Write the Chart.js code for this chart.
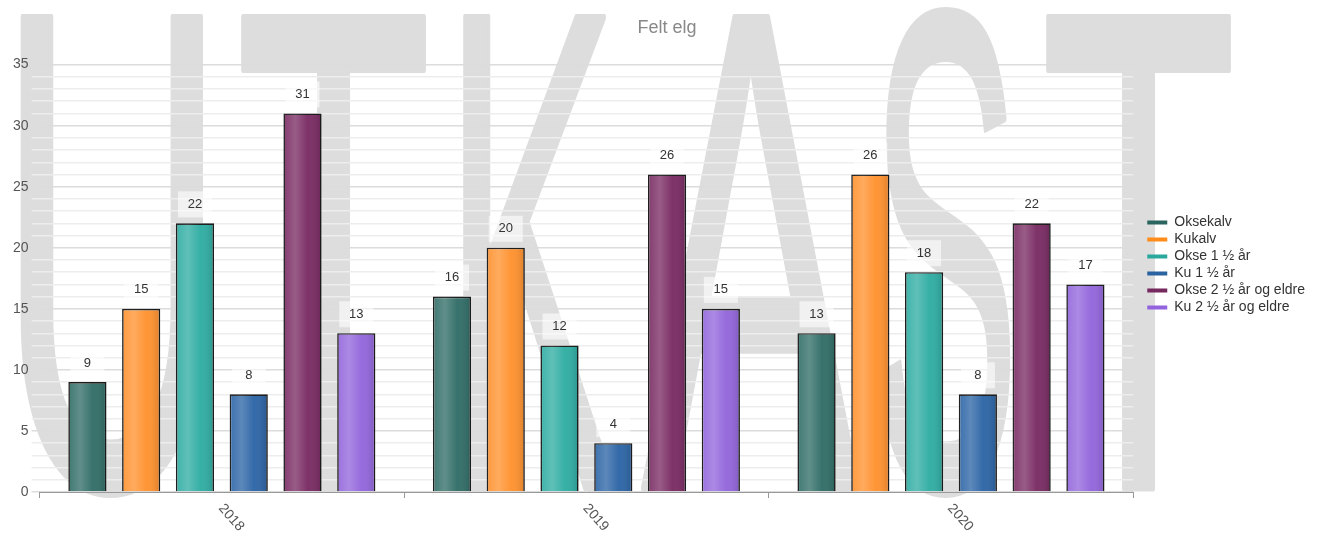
<!DOCTYPE html>
<html>
<head>
<meta charset="utf-8">
<title>Felt elg</title>
<script src="https://cdn.jsdelivr.net/npm/chart.js@4.4.1/dist/chart.umd.min.js"></script>
<style>
  html, body { margin: 0; padding: 0; background: #fff; }
  #wrap { width: 1328px; height: 539px; position: relative; }
</style>
</head>
<body>
<div id="wrap"><canvas id="feltChart"></canvas></div>
<script>
// kategorier (år) og serier
const years = ['2018', '2019', '2020'];
const seriesNames = ['Oksekalv', 'Kukalv', 'Okse 1 ½ år', 'Ku 1 ½ år', 'Okse 2 ½ år og eldre', 'Ku 2 ½ år og eldre'];
const oksekalv = [9, 16, 13];
const kukalv = [15, 20, 26];
const okse1 = [22, 12, 18];
const ku1 = [8, 4, 8];
const okse2 = [31, 26, 22];
const ku2 = [13, 15, 17];
const yTickLabels = [0, 5, 10, 15, 20, 25, 30, 35];

const seriesValues = [oksekalv, kukalv, okse1, ku1, okse2, ku2];
const barColors = ['#346f69', '#ff9331', '#32aea4', '#2f67a7', '#7b2e65', '#9468dc'];
const legendColors = ['#2b6560', '#ff8c1a', '#2aa89e', '#2b62a0', '#75295f', '#9264dd'];

const FONT = '"Liberation Sans", Arial, sans-serif';

// stor "UTKAST" bak diagrammet
const watermark = {
    id: 'watermark',
    beforeDraw(chart) {
        const ctx = chart.ctx;
        const letters = ['U', 'T', 'K', 'A', 'S', 'T'];
        const lefts = [20, 242, 464, 642, 879, 1047];
        const rights = [203, 425, 616, 860, 1011, 1230];
        const baseline = 488, capH = 472;
        ctx.save();
        ctx.fillStyle = '#fff';
        ctx.fillRect(0, 0, chart.width, chart.height);
        ctx.fillStyle = '#dddddd';
        ctx.strokeStyle = '#dddddd';
        ctx.lineJoin = 'round';
        ctx.lineWidth = 1;
        ctx.font = '100px ' + FONT;
        ctx.textAlign = 'left';
        ctx.textBaseline = 'alphabetic';
        const tAsc = ctx.measureText('T').actualBoundingBoxAscent;
        letters.forEach((ch, i) => {
            const m = ctx.measureText(ch);
            const w = m.actualBoundingBoxLeft + m.actualBoundingBoxRight;
            const sx = (rights[i] - lefts[i]) / w;
            const sy = capH / tAsc;
            ctx.save();
            ctx.translate(lefts[i], baseline);
            ctx.scale(sx, sy);
            ctx.fillText(ch, m.actualBoundingBoxLeft, 0);
            ctx.strokeText(ch, m.actualBoundingBoxLeft, 0);
            ctx.restore();
        });
        ctx.restore();
    }
};

// glans på søylene + verdietiketter
const barDecor = {
    id: 'barDecor',
    afterDatasetsDraw(chart) {
        const ctx = chart.ctx;
        ctx.save();
        chart.data.datasets.forEach((ds, di) => {
            const meta = chart.getDatasetMeta(di);
            if (meta.hidden) return;
            meta.data.forEach((bar) => {
                const left = bar.x - bar.width / 2 + 1;
                const right = bar.x + bar.width / 2 - 1;
                const g = ctx.createLinearGradient(left, 0, right, 0);
                g.addColorStop(0, 'rgba(255,255,255,0.08)');
                g.addColorStop(0.3, 'rgba(255,255,255,0.22)');
                g.addColorStop(0.65, 'rgba(255,255,255,0.02)');
                g.addColorStop(1, 'rgba(0,0,0,0.12)');
                ctx.fillStyle = g;
                ctx.fillRect(left, bar.y + 1, right - left, bar.base - bar.y - 1);
            });
        });
        ctx.font = '13px ' + FONT;
        ctx.textAlign = 'center';
        ctx.textBaseline = 'middle';
        chart.data.datasets.forEach((ds, di) => {
            const meta = chart.getDatasetMeta(di);
            if (meta.hidden) return;
            meta.data.forEach((bar, i) => {
                ctx.fillStyle = 'rgba(255,255,255,0.6)';
                ctx.fillRect(bar.x - 17, bar.y - 32, 34, 26);
                ctx.fillStyle = '#333';
                ctx.fillText(String(ds.data[i]), bar.x, bar.y - 19);
            });
        });
        ctx.restore();
    }
};

// skrå årstall under x-aksen
const xLabels = {
    id: 'xLabels',
    afterDraw(chart) {
        const ctx = chart.ctx;
        const xs = chart.scales.x;
        ctx.save();
        ctx.font = '14px ' + FONT;
        ctx.fillStyle = '#555';
        ctx.textAlign = 'left';
        ctx.textBaseline = 'middle';
        years.forEach((y, i) => {
            const px = xs.getPixelForValue(i);
            ctx.save();
            ctx.translate(px - 1, xs.top + 14);
            ctx.rotate(Math.PI * 0.27);
            ctx.fillText(y, 0, 0);
            ctx.restore();
        });
        ctx.restore();
    }
};

// flytt forklaringen og tittelen litt
const boxShift = {
    id: 'boxShift',
    afterLayout(chart) {
        if (chart.legend) {
            chart.legend.left += 11;
            chart.legend.right += 11;
        }
        if (chart.titleBlock) {
            chart.titleBlock.left += 10;
            chart.titleBlock.right += 10;
        }
    }
};

const ctx = document.getElementById('feltChart').getContext('2d');
new Chart(ctx, {
    type: 'bar',
    data: {
        labels: years,
        datasets: seriesNames.map((name, i) => ({
            label: name,
            data: seriesValues[i],
            backgroundColor: barColors[i],
            borderColor: '#1c1c1c',
            borderWidth: 1.6,
            categoryPercentage: 0.885,
            barPercentage: 0.71
        }))
    },
    options: {
        responsive: true,
        maintainAspectRatio: false,
        animation: false,
        layout: { padding: { left: 10, right: 24, top: 0, bottom: 41 } },
        plugins: {
            title: {
                display: true,
                text: 'Felt elg',
                color: '#888',
                font: { family: FONT, size: 18, weight: 'normal' },
                padding: { top: 17, bottom: 26 }
            },
            legend: {
                position: 'right',
                title: { display: true, text: ' ', font: { size: 10 }, padding: { top: 10, bottom: 10 } },
                labels: {
                    boxWidth: 20,
                    boxHeight: 4,
                    padding: 3,
                    color: '#333',
                    font: { family: FONT, size: 14 },
                    generateLabels: chart => seriesNames.map((name, i) => ({
                        text: name,
                        fillStyle: legendColors[i],
                        strokeStyle: legendColors[i],
                        lineWidth: 0,
                        fontColor: '#333',
                        hidden: !chart.isDatasetVisible(i),
                        datasetIndex: i
                    }))
                }
            },
            tooltip: { enabled: false }
        },
        scales: {
            x: {
                offset: true,
                border: { display: true, color: '#999', width: 1 },
                grid: { offset: true, drawOnChartArea: false, tickLength: 6, color: '#999' },
                ticks: { display: false }
            },
            y: {
                min: 0,
                max: 35,
                border: { display: false },
                grid: {
                    tickLength: 8,
                    color: c => (yTickLabels.includes(c.tick.value) ? '#dcdcdc' : '#ededed'),
                    lineWidth: 1.5
                },
                ticks: {
                    stepSize: 1,
                    autoSkip: false,
                    padding: 3,
                    color: '#555',
                    font: { family: FONT, size: 14 },
                    callback: v => (yTickLabels.includes(v) ? v : '')
                }
            }
        }
    },
    plugins: [watermark, barDecor, xLabels, boxShift]
});
</script>
</body>
</html>
